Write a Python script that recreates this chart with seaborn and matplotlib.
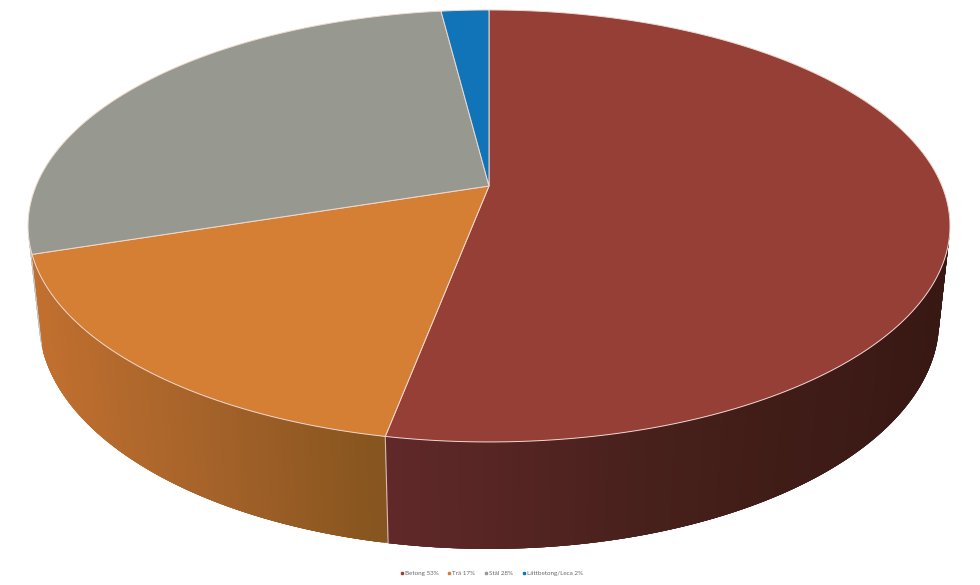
import numpy as np
import matplotlib
matplotlib.use("Agg")
import matplotlib.pyplot as plt
from matplotlib.collections import PolyCollection
from matplotlib.lines import Line2D
import seaborn as sns

labels = ["Betong", "Trä", "Stål", "Lättbetong/Leca"]
values = [53, 17, 28, 2]

top_colors = ["#953F37", "#D57F35", "#979990", "#1173B8"]
# wall shading, from the right hand end of a slice to the left hand end
wall_colors = [
    ["#381813", "#47201B", "#62292A"],
    ["#87551F", "#A6632A", "#C2702F"],
    ["#C4C5C0", "#C4C5C0", "#C4C5C0"],
    ["#0C5283", "#0C5283", "#0C5283"],
]

sns.set_theme(style="white")
plt.rcParams["font.family"] = ["Lato", "DejaVu Sans"]

# camera for the tilted disc, in pixels
cx, cy = 489, 186
rx, ry = 453, 208.6
tilt = 0.185
depth_w, depth_h = 0.02325, 95.6


def project(theta, z=0.0):
    # theta in degrees clockwise from 12 o'clock, z=0 top face, z=1 bottom face
    u = np.sin(np.radians(theta))
    v = np.cos(np.radians(theta))
    w = 1 + tilt * v + depth_w * z
    return cx + rx * u / w, cy + (depth_h * z - ry * v) / w


fig, ax = plt.subplots(figsize=(9.8, 5.85), dpi=100)
fig.subplots_adjust(0, 0, 1, 1)
ax.set_xlim(0, 980)
ax.set_ylim(585, 0)
ax.axis("off")

edges = 360 * np.cumsum([0] + values) / sum(values)
rim = "#EFD9D0"

# side walls first, only the front part can be seen. Stål goes first so the
# Trä wall ends on a clean seam over it
for i in [2, 0, 1]:
    lo, hi = max(edges[i], 97), min(edges[i + 1], 258)
    if hi <= lo:
        continue
    th = np.linspace(lo, hi, int((hi - lo) * 3) + 2)
    x0, y0 = project(th)
    x1, y1 = project(th, 1)
    pal = sns.blend_palette(wall_colors[i], 256)
    span = (x0 - x0.min()) / max(np.ptp(x0), 1)
    # every strip overlaps the next ones, so no stripes show between them
    quads = []
    cols = []
    for j in range(len(th) - 1):
        k = min(j + 4, len(th) - 1)
        quads.append([(x0[j], y0[j]), (x0[j + 1:k + 1].mean(), y0[j + 1:k + 1].mean()),
                      (x0[k], y0[k]), (x1[k], y1[k]), (x1[j], y1[j])])
        cols.append(pal[int((1 - span[j]) * 255)])
    ax.add_collection(PolyCollection(quads[::-1], facecolors=cols[::-1], linewidths=0, zorder=1))

# seam on the wall between Betong and Trä
for e in edges[1:2]:
    x0, y0 = project(e)
    x1, y1 = project(e, 1)
    ax.plot([x0, x1], [y0, y1], color=rim, lw=0.8, alpha=0.8, zorder=2, solid_capstyle="butt")

# top face
for i in range(len(values)):
    th = np.linspace(edges[i], edges[i + 1], 240)
    x, y = project(th)
    ax.fill(np.r_[cx, x], np.r_[cy, y], facecolor=top_colors[i], edgecolor=rim, lw=0.7, zorder=3)

handles = [Line2D([], [], ls="", marker="s", ms=1.5, color=c) for c in top_colors]
texts = [f"{a} {b}%" for a, b in zip(labels, values)]
ax.legend(handles, texts, loc="center", bbox_to_anchor=(491.5 / 980, 1 - 573.5 / 585), ncol=4,
          frameon=False, fontsize=4.5, labelcolor="#6A6A6A", handlelength=0.4,
          handletextpad=0.3, columnspacing=1.5, borderpad=0)

fig.savefig("out.png", dpi=100)
